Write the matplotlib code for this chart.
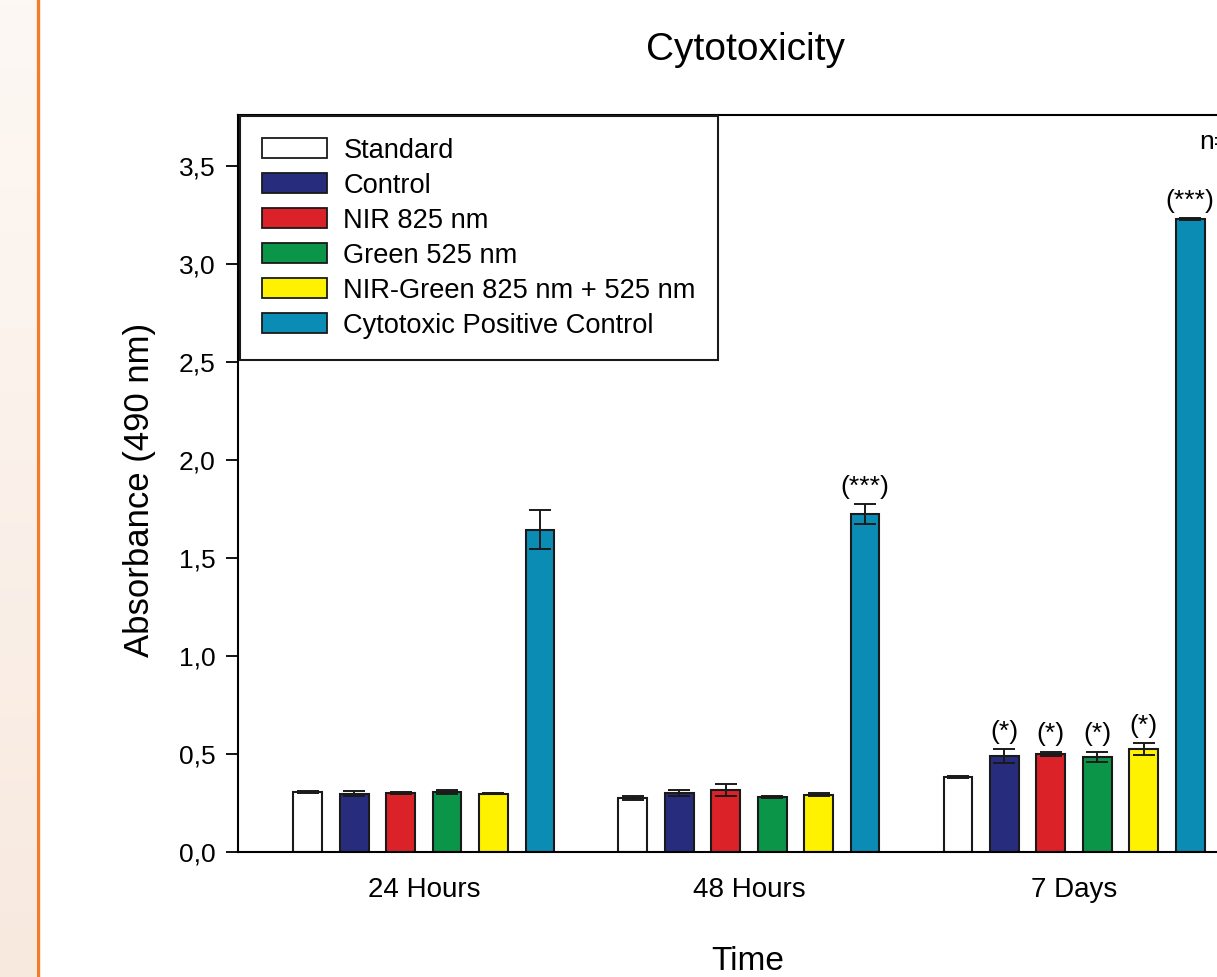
import numpy as np
import matplotlib
matplotlib.use("Agg")
import matplotlib.pyplot as plt
from matplotlib.lines import Line2D
from matplotlib.ticker import FuncFormatter

plt.rcParams['font.family'] = ['Liberation Sans', 'DejaVu Sans']

# absorbance at 490 nm, mean and error per time point
groups = ['24 Hours', '48 Hours', '7 Days']
series = ['Standard', 'Control', 'NIR 825 nm', 'Green 525 nm',
          'NIR-Green 825 nm + 525 nm', 'Cytotoxic Positive Control']
standard = [0.305, 0.276, 0.383]
standard_err = [0.004, 0.010, 0.004]
control = [0.298, 0.300, 0.490]
control_err = [0.012, 0.015, 0.035]
nir = [0.300, 0.316, 0.500]
nir_err = [0.004, 0.030, 0.010]
green = [0.305, 0.280, 0.485]
green_err = [0.010, 0.004, 0.025]
nir_green = [0.298, 0.292, 0.525]
nir_green_err = [0.004, 0.008, 0.030]
positive = [1.645, 1.725, 3.230]
positive_err = [0.100, 0.050, 0.004]
# significance marks, one row per time point
marks = [['', '', '', '', '', ''],
         ['', '', '', '', '', '(***)'],
         ['', '(*)', '(*)', '(*)', '(*)', '(***)']]

means = [standard, control, nir, green, nir_green, positive]
errs = [standard_err, control_err, nir_err, green_err, nir_green_err, positive_err]
colors = ['#ffffff', '#272d7c', '#dc2229', '#0a9548', '#fff200', '#0a8cb4']

W, H = 1217, 977
fig = plt.figure(figsize=(W / 100, H / 100), dpi=100)

# peach band and orange rule on the left
band = fig.add_axes([0, 0, 36 / W, 1])
grad = np.linspace(0, 1, 256).reshape(-1, 1)
band.imshow(grad, aspect='auto', extent=[0, 1, 0, 1], origin='lower',
            cmap=matplotlib.colors.LinearSegmentedColormap.from_list('p', ['#f8e9df', '#fdf8f4']))
band.axis('off')
fig.add_artist(Line2D([37.5 / W, 37.5 / W], [0, 1], color='#f47b2a', lw=2.4))

x0, x1 = 238, 1585
ax = fig.add_axes([x0 / W, 125 / H, (x1 - x0) / W, (852 - 115) / H])
centers = np.arange(len(groups)) * 7.0
offsets = np.arange(len(series)) - 2.5

for i, name in enumerate(series):
    x = centers + offsets[i]
    ax.bar(x, means[i], width=0.62, color=colors[i], edgecolor='#1a1a1a',
           linewidth=1.5, label=name, zorder=2)
    ax.errorbar(x, means[i], yerr=errs[i], fmt='none', ecolor='#1a1a1a',
                elinewidth=1.4, capsize=8, capthick=1.4, zorder=3)
    for g in range(len(groups)):
        if marks[g][i]:
            ax.annotate(marks[g][i], (x[g], means[i][g] + errs[i][g]),
                        xytext=(0, 4), textcoords='offset points',
                        ha='center', va='bottom', fontsize=19)

ax.set_xlim(-4, 25)
ax.set_ylim(0, 3.76)
ax.set_yticks(np.arange(0, 3.51, 0.5))
ax.yaxis.set_major_formatter(FuncFormatter(lambda v, p: f'{v:.1f}'.replace('.', ',')))
ax.tick_params(axis='y', direction='out', length=9, width=1.3, labelsize=19, pad=7)
ax.set_xticks(centers)
ax.set_xticklabels(groups, fontsize=20)
ax.tick_params(axis='x', length=0, pad=18)
for s in ['left', 'bottom', 'top']:
    ax.spines[s].set_linewidth(1.5)
ax.spines['right'].set_visible(False)

ax.set_ylabel('Absorbance (490 nm)', fontsize=25, va='center')
ax.yaxis.set_label_coords((140 - x0) / (x1 - x0), (852 - 490) / (852 - 115))
ax.set_xlabel('Time', fontsize=24)
ax.xaxis.set_label_coords((748 - x0) / (x1 - x0), -(962 - 852) / (852 - 115))
ax.xaxis.label.set_va('center')
fig.text(746 / W, 1 - 50 / H, 'Cytotoxicity', ha='center', va='center', fontsize=28)
ax.text(16.7, 3.62, 'n=3', ha='left', va='center', fontsize=19)

leg = ax.legend(loc='upper left', bbox_to_anchor=(240 / W, 1 - 116 / H),
                bbox_transform=fig.transFigure, borderaxespad=0, fontsize=19.6,
                handlelength=2.4, handleheight=0.75, handletextpad=0.6,
                labelspacing=0.33, borderpad=0.8, fancybox=False, framealpha=1)
leg.get_frame().set_edgecolor('#1a1a1a')
leg.get_frame().set_linewidth(1.5)
for p in leg.get_patches():
    p.set_linewidth(1.3)

fig.savefig('out.png', dpi=100)
